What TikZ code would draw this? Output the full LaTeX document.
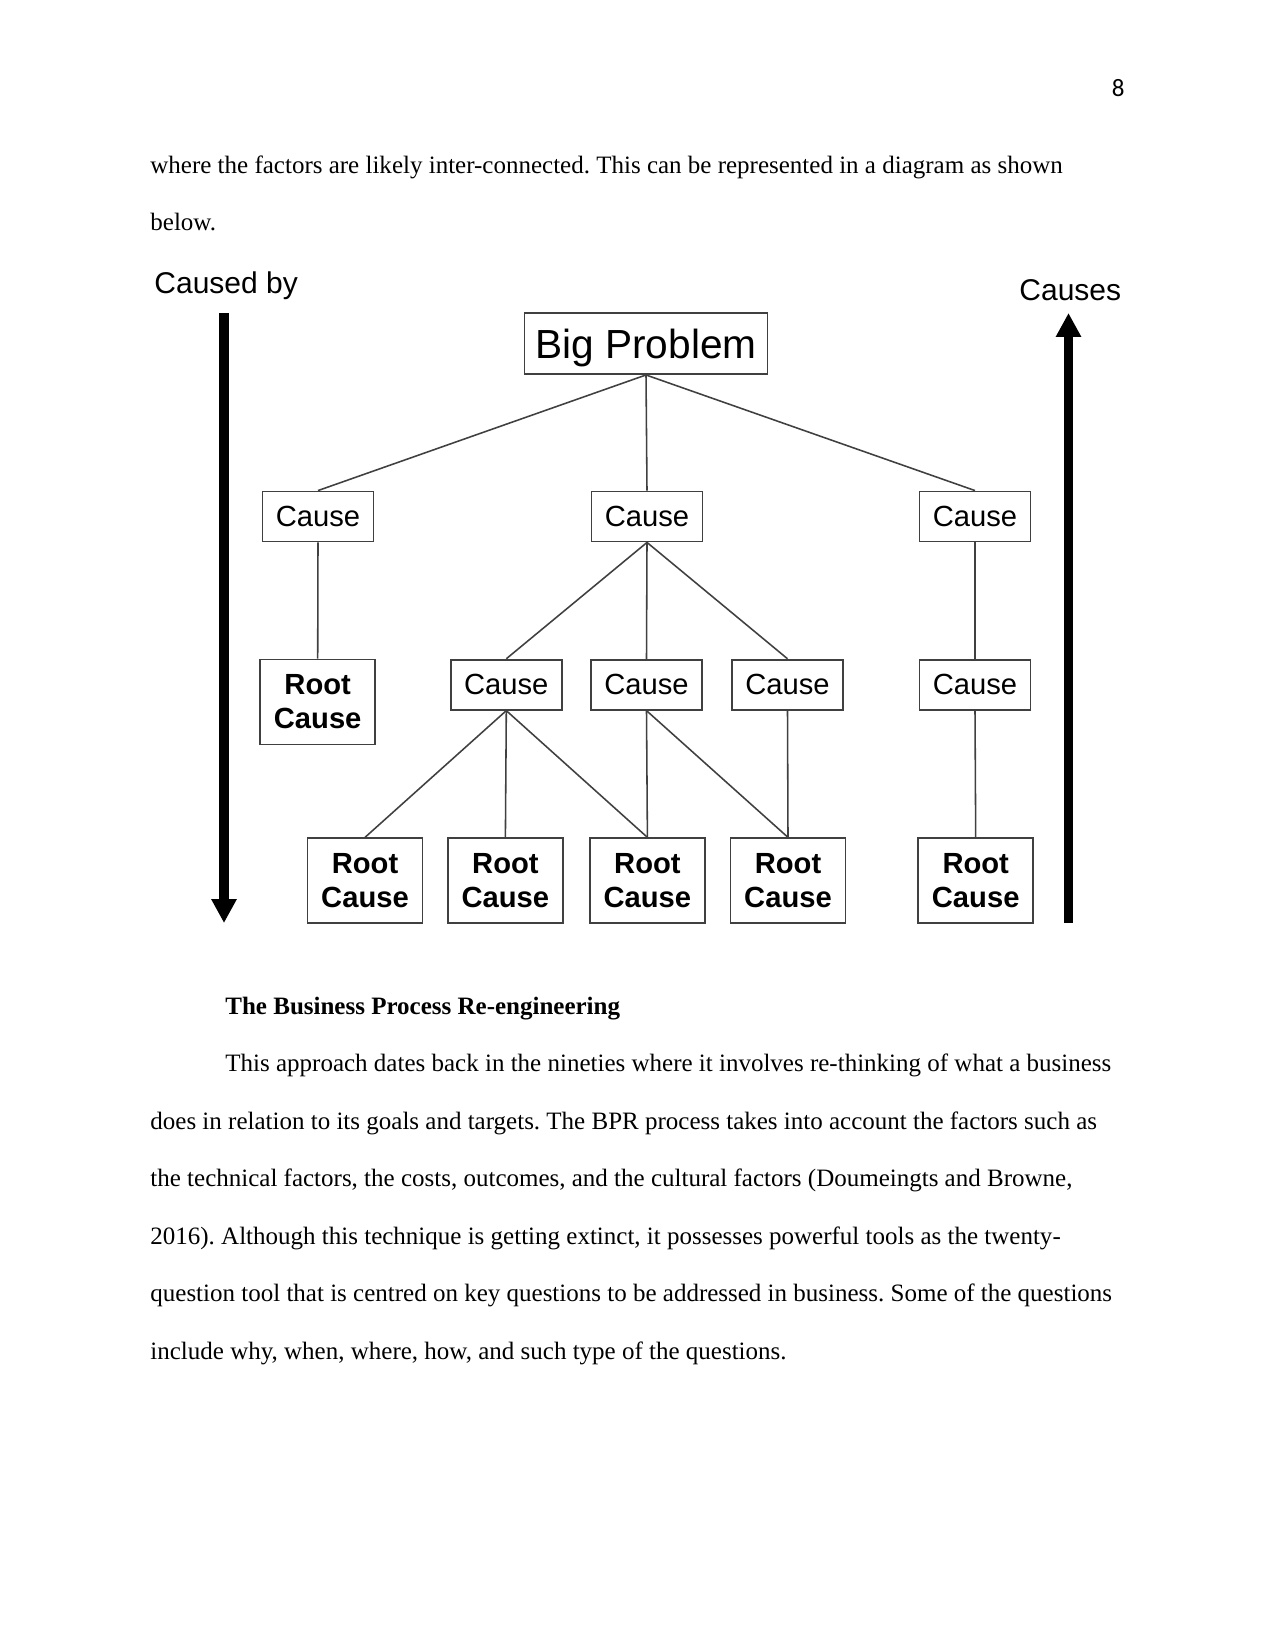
\documentclass[tikz,border=0pt]{standalone}
\usepackage{fontspec}
\setmainfont{Liberation Serif}
\newfontfamily\diafont{Liberation Sans}
\newfontfamily\pgfont{Carlito}
\usetikzlibrary{arrows.meta,positioning}
\frenchspacing

\begin{document}
\begin{tikzpicture}[
  x=0.48bp, y=-0.48bp,
  box/.style={rectangle, draw=black!75, line width=0.9bp, fill=white, inner sep=0pt,
              minimum width=53.3bp, minimum height=24bp,
              font=\diafont\fontsize{14bp}{16.8bp}\selectfont},
  root/.style={box, align=center, minimum width=55.2bp, minimum height=40.8bp,
               font=\diafont\bfseries\fontsize{14bp}{16.4bp}\selectfont},
  prob/.style={box, minimum width=116.6bp, minimum height=29.3bp, text depth=0pt,
               font=\diafont\fontsize{19.5bp}{22bp}\selectfont},
  lbl/.style={anchor=base west, inner sep=0pt, font=\diafont\fontsize{14.4bp}{17bp}\selectfont},
  txt/.style={anchor=base west, inner sep=0pt, font=\fontsize{12bp}{14bp}\selectfont},
  ln/.style={draw=black!75, line width=0.75bp},
  bigar/.style={line width=4.6bp, -{Triangle[width=11.5bp, length=11.5bp]}},
]
\useasboundingbox (0,0) rectangle (1275,1650);

% ---------- page text above ----------
\node[anchor=base east, inner sep=0pt, font=\pgfont\fontsize{12bp}{14bp}\selectfont] (pagenum) at (1125,96) {8};
\node[txt] (line1) at (150,173) {where the factors are likely inter-connected. This can be represented in a diagram as shown};
\node[txt] (line2) at (150,230) {below.};

% ---------- side labels and arrows ----------
\node[lbl] (causedby) at (154,293) {Caused by};
\node[lbl] (causes) at (1019,300) {Causes};
\coordinate (downtop) at (224,313);
\coordinate (downend) at (224,923);
\coordinate (upbot) at (1068.5,923);
\coordinate (uptop) at (1068.5,313);

% ---------- tree ----------
\node[prob] (big) at (646,343.5) {Big Problem};

\node[box] (c1) at (318,516.5) {Cause};
\node[box] (c2) at (647,516.5) {Cause};
\node[box] (c3) at (975,516.5) {Cause};

\node[root] (r1) at (317.7,702) {Root\\Cause};
\node[box] (c4) at (506.3,684.7) {Cause};
\node[box] (c5) at (646.5,684.7) {Cause};
\node[box] (c6) at (787.5,684.7) {Cause};
\node[box] (c7) at (975,684.7) {Cause};

\node[root] (r2) at (365,880.8) {Root\\Cause};
\node[root] (r3) at (505.4,880.8) {Root\\Cause};
\node[root] (r4) at (647.4,880.8) {Root\\Cause};
\node[root] (r5) at (788,880.8) {Root\\Cause};
\node[root] (r6) at (975.7,880.8) {Root\\Cause};

% ===== connectors =====
\draw[ln] (big.south) -- (c1.north);
\draw[ln] (big.south) -- (c2.north);
\draw[ln] (big.south) -- (c3.north);
\draw[ln] (c1.south) -- (r1.north);
\draw[ln] (c2.south) -- (c4.north);
\draw[ln] (c2.south) -- (c5.north);
\draw[ln] (c2.south) -- (c6.north);
\draw[ln] (c3.south) -- (c7.north);
\draw[ln] (c4.south) -- (r2.north);
\draw[ln] (c4.south) -- (r3.north);
\draw[ln] (c4.south) -- (r4.north);
\draw[ln] (c5.south) -- (r4.north);
\draw[ln] (c5.south) -- (r5.north);
\draw[ln] (c6.south) -- (r5.north);
\draw[ln] (c7.south) -- (r6.north);

% ===== direction arrows =====
\draw[bigar] (downtop) -- (downend);
\draw[bigar] (upbot) -- (uptop);

% ---------- page text below ----------
\node[txt, font=\bfseries\fontsize{12bp}{14bp}\selectfont] (head) at (225,1014) {The Business Process Re-engineering};
\node[txt] (par1) at (225,1071.5) {This approach dates back in the nineties where it involves re-thinking of what a business};
\node[txt] (par2) at (150,1129) {does in relation to its goals and targets. The BPR process takes into account the factors such as};
\node[txt] (par3) at (150,1186.5) {the technical factors, the costs, outcomes, and the cultural factors (Doumeingts and Browne,};
\node[txt] (par4) at (150,1244) {2016). Although this technique is getting extinct, it possesses powerful tools as the twenty-};
\node[txt] (par5) at (150,1301.5) {question tool that is centred on key questions to be addressed in business. Some of the questions};
\node[txt] (par6) at (150,1359) {include why, when, where, how, and such type of the questions.};

\end{tikzpicture}
\end{document}
